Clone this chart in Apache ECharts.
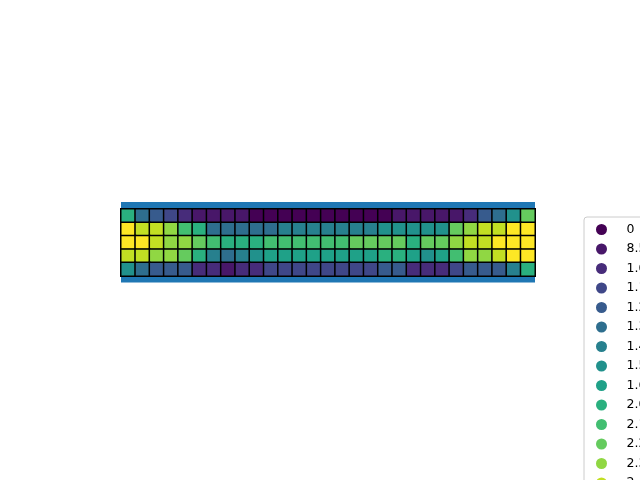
<!DOCTYPE html>
<html>
<head>
<meta charset="utf-8">
<script src="https://cdn.jsdelivr.net/npm/echarts@6/dist/echarts.min.js"></script>
<style>html,body{margin:0;padding:0;background:#fff;}#chart{width:640px;height:480px;}</style>
</head>
<body>
<div id="chart"></div>
<script>
// Column categories (29 columns) and row categories (5 rows)
const columns = ['0','1','2','3','4','5','6','7','8','9','10','11','12','13','14','15','16','17','18','19','20','21','22','23','24','25','26','27','28'];
const rowNames = ['r0','r1','r2','r3','r4'];

// Legend labels of the 15 discrete levels (text is clipped at the right edge)
const levelLabels = ['0','8.5','1.0','1.1','1.2','1.3','1.4','1.5','1.6','2.0','2.1','2.2','2.3','2.4','2.5'];

// Level index of every cell, one array per row (top to bottom)
const row0 = [9,5,4,3,2,1,1,1,1,0,0,0,0,0,0,0,0,0,0,1,1,1,1,1,2,4,5,7,11];
const row1 = [14,13,13,12,10,9,5,5,5,5,5,6,6,6,6,6,6,6,7,7,7,7,7,11,12,13,13,14,14];
const row2 = [14,14,13,12,12,11,10,9,9,9,10,10,10,10,10,10,11,11,11,11,9,11,11,12,13,13,14,14,14];
const row3 = [13,13,12,12,11,9,6,5,6,7,8,8,8,8,8,8,8,8,9,9,8,7,8,10,12,12,13,14,14];
const row4 = [7,5,4,4,4,2,2,1,2,2,3,3,3,3,3,3,3,3,4,4,2,2,2,3,4,4,4,6,9];
const rows = [row0,row1,row2,row3,row4];

// viridis, 15 steps
const palette = ['#440154','#481769','#472c7a','#3f4788','#375b8d','#2e6e8e','#27808e','#21918c','#1fa188','#2ab07f','#42be71','#65cb5e','#90d743','#c2df23','#fde725'];

const cells = [];
rows.forEach((r, y) => r.forEach((v, x) => {
  cells.push({ value: [x, y, v], itemStyle: { color: palette[v] } });
}));

const series = [{
  name: 'cells',
  type: 'heatmap',
  xAxisIndex: 0,
  yAxisIndex: 0,
  data: cells,
  itemStyle: { borderColor: '#000', borderWidth: 1.5 },
  emphasis: { disabled: true },
  silent: true,
  z: 3
}];
// legend entries (one per level, no marks of their own)
levelLabels.forEach((name, k) => {
  series.push({ name: name, type: 'heatmap', xAxisIndex: 0, yAxisIndex: 0, data: [], itemStyle: { color: palette[k] }, silent: true });
});

const hiddenAxis = { axisLine:{show:false}, axisTick:{show:false}, axisLabel:{show:false}, splitLine:{show:false} };

const chart = echarts.init(document.getElementById('chart'), null, { renderer: 'canvas' });
chart.setOption({
  animation: false,
  backgroundColor: '#ffffff',
  grid: [
    { left: 121, top: 209, width: 414, height: 67, show: false },
    { left: 121, top: 202, width: 414, height: 80.5, show: true, backgroundColor: '#1f77b4', borderWidth: 0, z: 0 }
  ],
  xAxis: [
    Object.assign({ type: 'category', data: columns, gridIndex: 0 }, hiddenAxis),
    Object.assign({ type: 'value', gridIndex: 1 }, hiddenAxis)
  ],
  yAxis: [
    Object.assign({ type: 'category', data: rowNames, inverse: true, gridIndex: 0 }, hiddenAxis),
    Object.assign({ type: 'value', gridIndex: 1 }, hiddenAxis)
  ],
  legend: {
    orient: 'vertical',
    left: 584,
    top: 217,
    height: 330,
    padding: [6, 6, 6, 12],
    itemWidth: 40,
    itemHeight: 11,
    itemGap: 6.5,
    icon: 'circle',
    selectedMode: false,
    itemStyle: { borderWidth: 0 },
    borderColor: '#cccccc',
    borderWidth: 1,
    borderRadius: 3,
    backgroundColor: 'rgba(255,255,255,0.8)',
    textStyle: { fontFamily: 'DejaVu Sans', fontSize: 12.5, color: '#000' },
    data: levelLabels
  },
  series: series
});
</script>
</body>
</html>
